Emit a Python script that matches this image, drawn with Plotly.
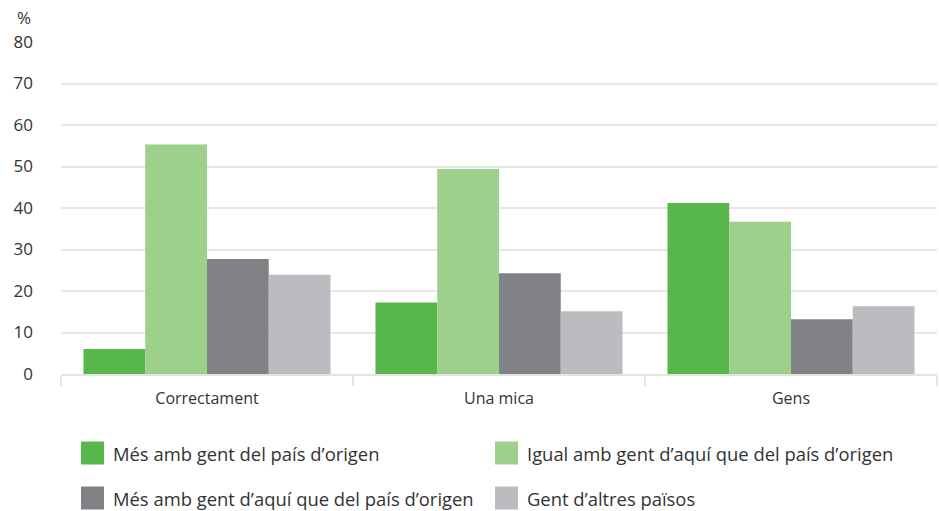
import plotly.graph_objects as go

# data
categories = ["Correctament", "Una mica", "Gens"]
series_names = [
    "Més amb gent del país d’origen",
    "Igual amb gent d’aquí que del país d’origen",
    "Més amb gent d’aquí que del país d’origen",
    "Gent d’altres països",
]
mes_origen = [6.0, 17.2, 41.2]
igual = [55.3, 49.4, 36.7]
mes_aqui = [27.7, 24.3, 13.2]
altres = [23.9, 15.1, 16.3]
y_ticks = [0, 10, 20, 30, 40, 50, 60, 70, 80]

COLORS = ["#57b74a", "#9dd08a", "#818285", "#bbbcc0"]
FONT = "Open Sans, Roboto, sans-serif"
TEXT = "#333333"

W, H = 939, 511
MARGIN = dict(l=61, r=2, t=42, b=137)

fig = go.Figure()

for name, vals, color in zip(series_names, [mes_origen, igual, mes_aqui, altres], COLORS):
    fig.add_trace(go.Bar(
        x=categories,
        y=vals,
        name=name,
        marker=dict(color=color, line=dict(width=0)),
        hovertemplate="<b>%{x}</b><br>" + name + ": %{y:.1f}%<extra></extra>",
    ))


def px_to_paper(px, py):
    pw = W - MARGIN["l"] - MARGIN["r"]
    ph = H - MARGIN["t"] - MARGIN["b"]
    return (px - MARGIN["l"]) / pw, (H - MARGIN["b"] - py) / ph


# custom legend: two columns, two rows, large square swatches
legend_cols = [81, 495]
legend_rows = [453, 498]
shapes = []
annotations = []
for i, (name, color) in enumerate(zip(series_names, COLORS)):
    cx = legend_cols[i % 2]
    cy = legend_rows[i // 2]
    x0, y0 = px_to_paper(cx, cy + 11.5)
    x1, y1 = px_to_paper(cx + 23, cy - 11.5)
    shapes.append(dict(type="rect", xref="paper", yref="paper",
                       x0=x0, y0=y0, x1=x1, y1=y1,
                       fillcolor=color, line=dict(width=0)))
    tx, ty = px_to_paper(cx + 30, cy)
    annotations.append(dict(text=name, xref="paper", yref="paper", x=tx, y=ty,
                            xanchor="left", yanchor="middle", showarrow=False,
                            font=dict(family=FONT, size=18.4, color=TEXT)))

# "%" unit label above the y axis
ux, uy = px_to_paper(24, 18)
annotations.append(dict(text="%", xref="paper", yref="paper", x=ux, y=uy,
                        xanchor="center", yanchor="middle", showarrow=False,
                        font=dict(family=FONT, size=17, color=TEXT)))

fig.update_layout(
    width=W,
    height=H,
    margin=MARGIN,
    barmode="group",
    bargap=0.154,
    bargroupgap=0,
    plot_bgcolor="white",
    paper_bgcolor="white",
    showlegend=False,
    font=dict(family=FONT, size=15, color=TEXT),
    shapes=shapes,
    annotations=annotations,
    xaxis=dict(
        showgrid=False,
        showline=True,
        linecolor="#e3e3e3",
        linewidth=1.5,
        ticks="outside",
        tickson="boundaries",
        ticklen=10,
        tickcolor="#e3e3e3",
        tickwidth=1.5,
        ticklabelstandoff=9,
        tickfont=dict(size=16, color=TEXT),
    ),
    yaxis=dict(
        range=[0, 80],
        tickvals=y_ticks,
        showgrid=True,
        gridcolor="#e6e6e6",
        gridwidth=1.5,
        zeroline=False,
        showline=False,
        ticks="",
        ticklabelstandoff=27,
        tickfont=dict(size=17, color=TEXT),
    ),
)

# page body has a default 8px margin; drop it so the figure fills the window
fig.write_html("out.html", config={"displayModeBar": False},
               post_script="document.body.style.margin='0';")
